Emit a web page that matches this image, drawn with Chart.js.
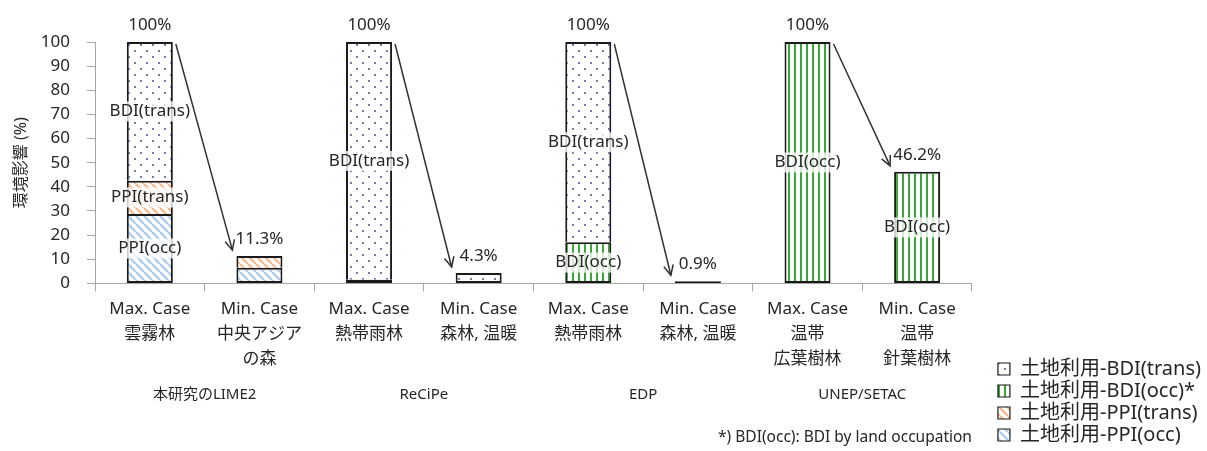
<!DOCTYPE html>
<html>
<head>
<meta charset="utf-8">
<script src="https://cdn.jsdelivr.net/npm/chart.js@4.4.1/dist/chart.umd.min.js"></script>
<style>
  html, body { margin: 0; padding: 0; background: #fff; }
  #wrap { width: 1207px; height: 451px; }
</style>
</head>
<body>
<div id="wrap"><canvas id="myChart"></canvas></div>
<script>

// cases per method (max / min)
var caseLabels = [
  ['Max. Case', '雲霧林'],
  ['Min. Case', '中央アジア', 'の森'],
  ['Max. Case', '熱帯雨林'],
  ['Min. Case', '森林, 温暖'],
  ['Max. Case', '熱帯雨林'],
  ['Min. Case', '森林, 温暖'],
  ['Max. Case', '温帯', '広葉樹林'],
  ['Min. Case', '温帯', '針葉樹林']
];
var methodLabels = ['本研究のLIME2', 'ReCiPe', 'EDP', 'UNEP/SETAC'];

// impact shares in %
var ppiOcc   = [28.7, 6.5, null, null, null, null, null, null];
var ppiTrans = [13.8, 4.8, null, null, null, null, null, null];
var bdiOcc   = [null, null, 1.5, 1.0, 17.0, 0.9, 100, 46.2];
var bdiTrans = [57.5, null, 98.5, 3.3, 83.0, null, null, null];

var fontFamily = "'Noto Sans', 'Noto Sans CJK JP', sans-serif";
var textColor = '#262626';
var axisColor = '#a6a6a6';

var totals = caseLabels.map(function(c, i) {
  var s = (ppiOcc[i] || 0) + (ppiTrans[i] || 0) + (bdiOcc[i] || 0) + (bdiTrans[i] || 0);
  return Math.round(s * 10) / 10;
});

function makePattern(w, h, draw) {
  var c = document.createElement('canvas');
  c.width = w; c.height = h;
  var g = c.getContext('2d');
  g.fillStyle = '#fff';
  g.fillRect(0, 0, w, h);
  draw(g, w, h);
  return document.getElementById('myChart').getContext('2d').createPattern(c, 'repeat');
}

var dotFill = makePattern(12, 12, function(g) {
  g.fillStyle = '#2a4488';
  g.beginPath(); g.arc(3, 3, 0.9, 0, Math.PI * 2); g.fill();
  g.beginPath(); g.arc(9, 9, 0.9, 0, Math.PI * 2); g.fill();
});
var vlineFill = makePattern(6, 6, function(g) {
  g.fillStyle = '#3aa836';
  g.fillRect(2, 0, 2, 6);
});
function diagFill(color) {
  return makePattern(8, 8, function(g, w, h) {
    g.strokeStyle = color;
    g.lineWidth = 2.6;
    for (var k = -1; k <= 1; k++) {
      g.beginPath();
      g.moveTo(k * w, 0);
      g.lineTo(k * w + w, h);
      g.stroke();
    }
  });
}
var orangeFill = diagFill('#f6bd93');
var blueFill = diagFill('#b2cdea');

var seriesList = [ppiOcc, ppiTrans, bdiOcc, bdiTrans];

// outline every piece; only the lowest piece of a stack gets a bottom edge
function segmentBorder(c) {
  var lowest = true;
  for (var k = 0; k < c.datasetIndex; k++) {
    if (seriesList[k][c.dataIndex]) lowest = false;
  }
  return { top: 2, left: 2, right: 2, bottom: lowest ? 2 : 0 };
}

// segment names written inside the bigger pieces, and the totals above the stacks
var barLabels = {
  id: 'barLabels',
  afterDatasetsDraw: function(chart) {
    var ctx = chart.ctx;
    var ys = chart.scales.y;
    ctx.save();
    ctx.textAlign = 'center';
    ctx.textBaseline = 'middle';
    ctx.font = '17px ' + fontFamily;
    chart.data.datasets.forEach(function(ds, di) {
      var meta = chart.getDatasetMeta(di);
      meta.data.forEach(function(bar, i) {
        var v = ds.data[i];
        if (!v || v < 10) return;
        var cy = (bar.y + bar.base) / 2;
        var w = ctx.measureText(ds.shortName).width;
        ctx.fillStyle = 'rgba(255,255,255,0.78)';
        ctx.fillRect(bar.x - w / 2 - 2, cy - 10, w + 4, 20);
        ctx.fillStyle = textColor;
        ctx.fillText(ds.shortName, bar.x, cy);
      });
    });
    totals.forEach(function(t, i) {
      var px = chart.scales.x.getPixelForValue(i);
      ctx.fillStyle = textColor;
      ctx.fillText(t + '%', px, ys.getPixelForValue(t) - 17);
    });
    ctx.restore();
  }
};

// arrows from each max case to its min case
var caseArrows = {
  id: 'caseArrows',
  afterDatasetsDraw: function(chart) {
    var ctx = chart.ctx;
    var xs = chart.scales.x, ys = chart.scales.y;
    var half = chart.getDatasetMeta(0).data[0].width / 2;
    ctx.save();
    ctx.strokeStyle = '#333';
    ctx.lineWidth = 1.5;
    for (var i = 0; i < totals.length; i += 2) {
      var x1 = xs.getPixelForValue(i) + half + 3;
      var y1 = ys.getPixelForValue(totals[i]) + 2;
      var x2 = xs.getPixelForValue(i + 1) - half - 4;
      var y2 = ys.getPixelForValue(totals[i + 1]) - 6;
      var a = Math.atan2(y2 - y1, x2 - x1);
      ctx.beginPath();
      ctx.moveTo(x1, y1);
      ctx.lineTo(x2, y2);
      ctx.stroke();
      ctx.beginPath();
      ctx.moveTo(x2 - 11 * Math.cos(a - 0.45), y2 - 11 * Math.sin(a - 0.45));
      ctx.lineTo(x2, y2);
      ctx.lineTo(x2 - 11 * Math.cos(a + 0.45), y2 - 11 * Math.sin(a + 0.45));
      ctx.stroke();
    }
    ctx.restore();
  }
};

Chart.defaults.font.family = fontFamily;
Chart.defaults.color = textColor;

var ctx = document.getElementById('myChart').getContext('2d');
var chart = new Chart(ctx, {
  type: 'bar',
  data: {
    labels: caseLabels,
    datasets: [
      { label: '土地利用-PPI(occ)', shortName: 'PPI(occ)', data: ppiOcc, backgroundColor: blueFill },
      { label: '土地利用-PPI(trans)', shortName: 'PPI(trans)', data: ppiTrans, backgroundColor: orangeFill },
      { label: '土地利用-BDI(occ)*', shortName: 'BDI(occ)', data: bdiOcc, backgroundColor: vlineFill },
      { label: '土地利用-BDI(trans)', shortName: 'BDI(trans)', data: bdiTrans, backgroundColor: dotFill }
    ].map(function(d) {
      d.borderColor = '#1a1a1a';
      d.borderWidth = segmentBorder;
      d.borderSkipped = false;
      d.categoryPercentage = 1;
      d.barPercentage = 0.42;
      return d;
    })
  },
  options: {
    responsive: true,
    maintainAspectRatio: false,
    animation: false,
    events: [],
    layout: { padding: { left: 8, top: 42, right: -4, bottom: 4 } },
    scales: {
      x: {
        stacked: true,
        grid: { display: true, drawOnChartArea: false, drawTicks: true, tickLength: 8, color: axisColor, offset: true },
        border: { color: axisColor },
        ticks: { font: { size: 17, lineHeight: '25px' }, color: textColor, padding: 5, maxRotation: 0, autoSkip: false },
        afterFit: function(s) { s.height = 91; }
      },
      x2: {
        type: 'category',
        labels: methodLabels,
        position: 'bottom',
        offset: true,
        grid: { display: false },
        border: { display: false },
        ticks: { font: { size: 15 }, color: textColor, padding: 3 },
        afterFit: function(s) { s.height = 32; }
      },
      y: {
        stacked: true,
        min: 0,
        max: 100,
        ticks: { stepSize: 10, autoSkip: false, font: { size: 17 }, color: textColor, padding: 17 },
        grid: { display: true, drawOnChartArea: false, drawTicks: true, tickLength: 8, color: axisColor },
        border: { color: axisColor },
        title: { display: true, text: '環境影響 (%)', font: { size: 16 }, color: textColor, padding: { top: 4, bottom: 4 } },
        afterFit: function(s) { s.width = 87; }
      },
      y2: {
        position: 'right',
        grid: { display: false },
        border: { display: false },
        ticks: { display: false },
        afterFit: function(s) { s.width = 24; }
      }
    },
    plugins: {
      tooltip: { enabled: false },
      legend: {
        position: 'right',
        align: 'end',
        reverse: true,
        maxWidth: 240,
        labels: {
          boxWidth: 12,
          boxHeight: 12,
          padding: 2,
          font: { size: 20 },
          color: textColor,
          generateLabels: function(c) {
            return Chart.defaults.plugins.legend.labels.generateLabels(c).map(function(it) {
              it.lineWidth = 1.2;
              return it;
            });
          }
        }
      },
      subtitle: {
        display: true,
        text: '*) BDI(occ): BDI by land occupation',
        position: 'bottom',
        align: 'end',
        fullSize: false,
        font: { size: 15.5, weight: 'normal' },
        color: textColor,
        padding: { top: 22, bottom: 0 }
      }
    }
  },
  plugins: [barLabels, caseArrows]
});

</script>
</body>
</html>
